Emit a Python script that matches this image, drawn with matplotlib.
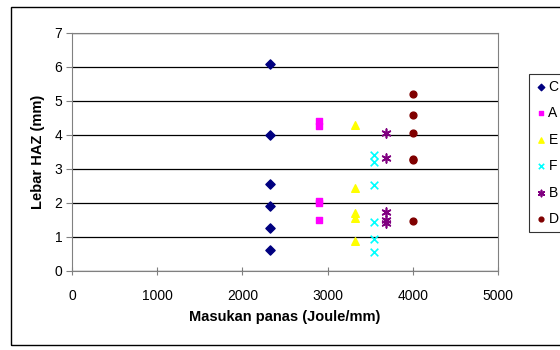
import matplotlib
matplotlib.use("Agg")
import matplotlib.pyplot as plt
from matplotlib.patches import Rectangle

plt.rcParams['font.family'] = ['Liberation Sans', 'DejaVu Sans']

# data
x_c = 2320
y_c = [6.08, 4.0, 2.57, 1.92, 1.26, 0.61]
x_a = 2900
y_a = [4.4, 4.25, 2.05, 2.0, 1.5]
x_e = 3320
y_e = [4.3, 2.43, 1.72, 1.55, 0.88]
x_f = 3540
y_f = [3.42, 3.2, 2.53, 1.45, 0.93, 0.57]
x_b = 3690
y_b = [4.05, 3.31, 1.74, 1.5, 1.42]
x_d = 4000
y_d = [5.2, 4.6, 4.05, 3.3, 3.25, 1.47]

fig = plt.figure(figsize=(5.6, 3.5), dpi=100)
fig.patches.append(Rectangle((11/560, 1-345/350), 560/560, (345-7)/350,
                             transform=fig.transFigure, fill=False,
                             edgecolor='black', linewidth=1))
ax = fig.add_axes([72/560, 1-271/350, (498-72)/560, (271-33)/350])

ax.scatter([x_c]*len(y_c), y_c, marker='D', s=22, color='#000080', label='C', zorder=3)
ax.scatter([x_a]*len(y_a), y_a, marker='s', s=22, color='#FF00FF', label='A', zorder=3)
ax.scatter([x_e]*len(y_e), y_e, marker='^', s=30, color='#FFFF00', label='E', zorder=3)
ax.scatter([x_f]*len(y_f), y_f, marker='x', s=30, color='#00FFFF', linewidths=1.2, label='F', zorder=3)
ax.scatter([x_b]*len(y_b), y_b, marker=(6, 2, 0), s=40, color='#800080', linewidths=1.2, label='B', zorder=3)
ax.scatter([x_d]*len(y_d), y_d, marker='o', s=24, color='#800000', label='D', zorder=3)

ax.set_xlim(0, 5000)
ax.set_ylim(0, 7)
ax.set_xticks(range(0, 5001, 1000))
ax.set_yticks(range(0, 8))
ax.yaxis.grid(True, color='black', linewidth=0.9)
ax.set_axisbelow(True)
for s in ax.spines.values():
    s.set_color('#808080')
ax.tick_params(axis='y', direction='out', length=4, color='#808080', labelsize=10, pad=3)
ax.tick_params(axis='x', direction='inout', length=6, color='#808080', labelsize=10, pad=10)
ax.set_xlabel('Masukan panas (Joule/mm)', fontweight='bold', fontsize=10.5, labelpad=5)
ax.set_ylabel('Lebar HAZ (mm)', fontweight='bold', fontsize=10.5, labelpad=7)

leg = ax.legend(loc='upper left', bbox_to_anchor=(529/560, 1-74/350),
                bbox_transform=fig.transFigure, frameon=True, fancybox=False,
                fontsize=10, handletextpad=0.1, borderpad=0.4, labelspacing=0.9,
                handlelength=0.9, borderaxespad=0, markerscale=0.7)
leg.get_frame().set_edgecolor('black')
leg.get_frame().set_linewidth(0.8)

fig.savefig('out.png', dpi=100)
